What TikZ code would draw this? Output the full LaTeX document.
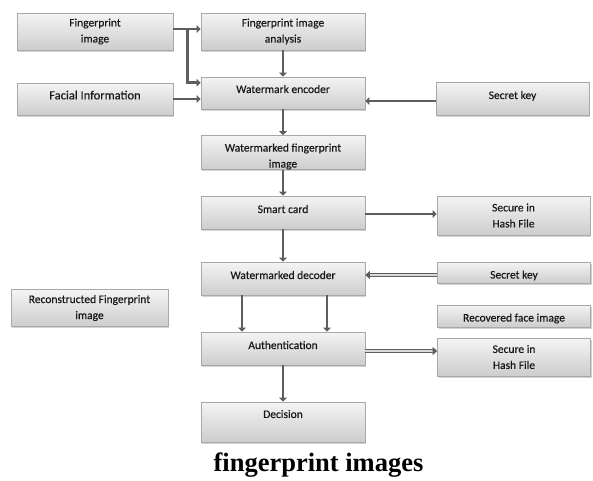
\documentclass[tikz,border=0pt]{standalone}
\usepackage{fontspec}
\setmainfont{Carlito}
\newfontfamily\boxfont[FakeBold=0.4]{Carlito}
\newfontfamily\capfont{Liberation Serif}
\usetikzlibrary{arrows.meta,shadows}
\definecolor{arrgray}{HTML}{5E5E5E}
\definecolor{boxline}{HTML}{A8A8A8}
\definecolor{boxtop}{HTML}{F4F4F4}
\definecolor{boxbot}{HTML}{CDCDCD}
\begin{document}
\begin{tikzpicture}[x=1pt,y=-1pt,
  box/.style={draw=boxline, line width=0.6pt, top color=boxtop, bottom color=boxbot,
    drop shadow={opacity=0.35, shadow xshift=1.2pt, shadow yshift=-1.8pt},
    inner sep=0pt, align=center, text=black!90,
    font=\boxfont\fontsize{11.5}{16}\selectfont},
  colbox/.style={box, minimum width=164pt},
  sidebox/.style={box, minimum width=153pt},
  leftbox/.style={box, minimum width=156pt},
  arr/.style={draw=arrgray, line width=2.8pt, -{Triangle[length=4pt,width=7.5pt]}},
  dbl/.style={draw=arrgray, line width=1.1pt, double=white!85!black, double distance=1.6pt,
    -{Triangle[length=4.5pt,width=8pt]}},
  capstyle/.style={font=\capfont\bfseries\fontsize{26.5}{30}\selectfont, anchor=base, inner sep=0pt}
]
\useasboundingbox (0,0) rectangle (593,480);

% left column
\node[leftbox, minimum height=37pt] (fpi) at (95,31.5) {Fingerprint\\image};
\node[leftbox, minimum height=32pt, text depth=8pt, font=\boxfont\fontsize{12.5}{16}\selectfont] (fac) at (95,99) {Facial Information};
\node[box, minimum width=157pt, minimum height=37pt] (rec) at (89.5,308) {Reconstructed Fingerprint\\image};

% center column
\node[colbox, minimum height=37pt] (fpa) at (283,31.5) {Fingerprint image\\analysis};
\node[colbox, minimum height=32pt, text depth=8pt] (enc) at (283,93) {Watermark encoder};
\node[colbox, minimum height=33pt] (wfi) at (283,152.5) {\rule{0pt}{16pt}Watermarked fingerprint\\image};
\node[colbox, minimum height=33pt, text depth=7pt] (sc) at (283,212.5) {Smart card};
\node[colbox, minimum height=33pt, text depth=7pt] (dec) at (283,278.5) {Watermarked decoder};
\node[colbox, minimum height=33pt, text depth=7pt] (aut) at (283,348.5) {Authentication};
\node[colbox, minimum height=40pt, text depth=16pt] (dcs) at (283,422) {Decision};

% right column
\node[sidebox, minimum height=33pt, text depth=7pt] (sk1) at (512.5,98.5) {Secret key};
\node[sidebox, minimum height=39pt] (hf1) at (513.5,215.5) {Secure in\\Hash File};
\node[sidebox, minimum height=21pt, text height=12pt, text depth=0pt] (sk2) at (514,272.5) {Secret key};
\node[sidebox, minimum height=22pt, text height=11pt, text depth=0pt] (rfi) at (514,316) {Recovered face image};
\node[sidebox, minimum height=38pt] (hf2) at (514,357) {Secure in\\Hash File};

% caption
\node[capstyle] (cap) at (318.5,471) {fingerprint images};

% connectors
\draw[arr] ([yshift=2.5pt]fpi.east) -- ([yshift=2.5pt]fpa.west);
\draw[arr] ([yshift=2.5pt]fpi.east) -| ([xshift=-13pt,yshift=-6pt]enc.north west) -- ([yshift=-6pt]enc.north west);
\draw[arr] (fac.east) -- (enc.west |- fac.east);
\draw[arr] (fpa.south) -- (enc.north);
\coordinate (k1) at ([yshift=-2.5pt]sk1.west);
\draw[arr] (k1) -- (enc.east |- k1);
\draw[arr] (enc.south) -- (wfi.north);
\draw[arr] (wfi.south) -- (sc.north);
\coordinate (s1) at ([yshift=-1.5pt]sc.east);
\draw[arr] (s1) -- (hf1.west |- s1);
\draw[arr] (sc.south) -- (dec.north);
\coordinate (k2) at ([yshift=-2.5pt]sk2.west);
\draw[dbl] (k2) -- (dec.east |- k2);
\draw[arr] ([xshift=-41pt]dec.south) -- ([xshift=-41pt]aut.north);
\draw[arr] ([xshift=44pt]dec.south) -- ([xshift=44pt]aut.north);
\coordinate (a1) at ([yshift=-2.5pt]aut.east);
\draw[dbl] (a1) -- (hf2.west |- a1);
\draw[arr] (aut.south) -- (dcs.north);
\end{tikzpicture}
\end{document}
